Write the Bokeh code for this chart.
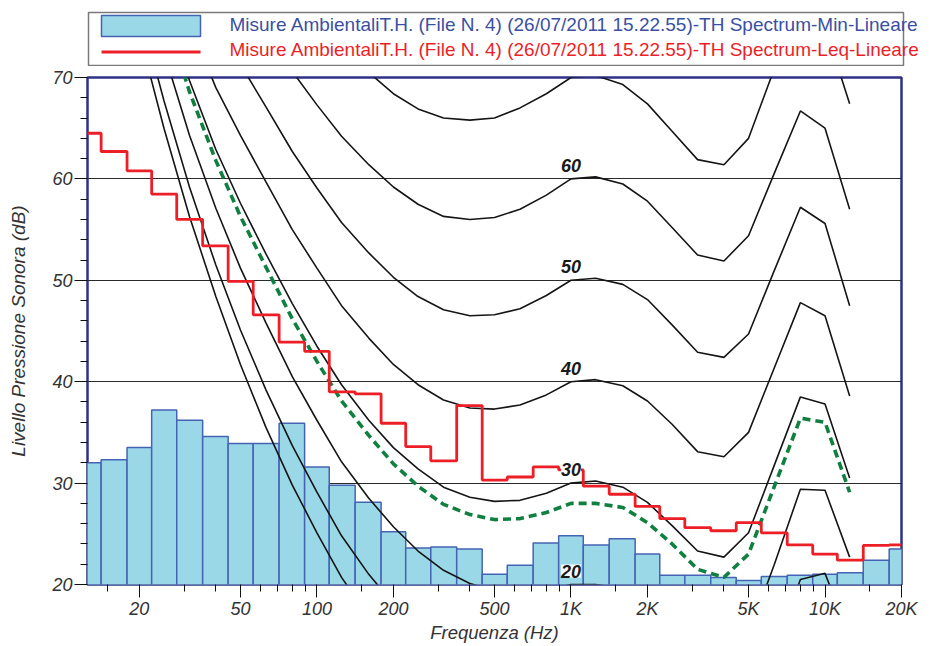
import math
from bokeh.plotting import figure
from bokeh.models import Range1d, FixedTicker, ColumnDataSource, LabelSet
from bokeh.layouts import column
from bokeh.embed import file_html
from bokeh.resources import INLINE
from bokeh.core.properties import value

# ---------------- data ----------------
band_freqs = [12.5, 16, 20, 25, 31.5, 40, 50, 63, 80, 100, 125, 160, 200, 250, 315, 400, 500,
              630, 800, 1000, 1250, 1600, 2000, 2500, 3150, 4000, 5000, 6300, 8000, 10000,
              12500, 16000, 20000]
spectrum_min = [32.0, 32.3, 33.5, 37.2, 36.2, 34.6, 33.9, 33.9, 35.9, 31.6, 29.8, 28.1, 25.2,
                23.6, 23.7, 23.5, 21.0, 21.9, 24.1, 24.8, 23.9, 24.5, 23.0, 20.9, 20.9, 20.7,
                20.4, 20.8, 20.9, 21.0, 21.15, 22.4, 23.5]
spectrum_leq = [64.5, 62.7, 60.8, 58.5, 56.0, 53.4, 49.9, 46.6, 43.9, 43.0, 39.0, 38.8, 35.9,
                33.6, 32.2, 37.65, 30.3, 30.6, 31.6, 31.3, 29.7, 28.9, 27.7, 26.5, 25.6, 25.3,
                26.1, 25.1, 23.9, 23.0, 22.4, 23.85, 23.9]

iso_freqs = [20, 25, 31.5, 40, 50, 63, 80, 100, 125, 160, 200, 250, 315, 400, 500, 630, 800,
             1000, 1250, 1600, 2000, 2500, 3150, 4000, 5000, 6300, 8000, 10000, 12500]
curve_threshold = [74.3, 65.0, 56.3, 48.4, 41.7, 35.5, 29.8, 25.1, 20.7, 16.8, 13.8, 11.2, 8.9,
                   7.2, 6.0, 5.0, 4.4, 4.2, 3.7, 2.6, 1.0, -1.2, -3.6, -3.9, -1.1, 6.6, 15.3,
                   16.4, 11.6]
curve_10 = [76.8, 67.7, 59.2, 51.5, 45.1, 39.2, 33.7, 29.1, 24.8, 21.0, 18.1, 15.6, 13.4, 11.9,
            10.9, 10.1, 9.9, 10.0, 10.1, 9.6, 8.0, 5.8, 3.4, 2.8, 5.1, 13.4, 20.5, 21.1, 14.8]
curve_20 = [81.3, 72.5, 64.3, 57.1, 51.2, 45.8, 40.5, 36.2, 32.1, 28.5, 25.7, 23.3, 21.4, 20.1,
            19.4, 19.1, 19.4, 20.0, 20.0, 19.6, 18.0, 15.8, 13.4, 12.8, 15.1, 21.9, 29.4, 29.3, 22.7]
curve_30 = [86.0, 77.6, 69.7, 62.9, 57.6, 52.6, 47.7, 43.5, 39.7, 36.2, 33.5, 31.4, 29.6, 28.6,
            28.2, 28.3, 29.0, 30.0, 30.2, 29.6, 28.1, 25.8, 23.3, 22.7, 25.1, 31.7, 38.5, 37.8, 30.5]
curve_40 = [91.0, 82.9, 75.4, 69.0, 64.3, 59.7, 55.0, 51.2, 47.5, 44.3, 41.7, 39.7, 38.2, 37.4,
            37.3, 37.7, 38.7, 40.0, 40.2, 39.6, 38.1, 35.8, 33.1, 32.6, 35.0, 41.3, 47.8, 46.5, 38.6]
curve_50 = [96.2, 88.5, 81.3, 75.4, 71.3, 67.1, 62.7, 59.1, 55.7, 52.7, 50.3, 48.4, 47.1, 46.5,
            46.6, 47.2, 48.5, 50.0, 50.2, 49.6, 48.1, 45.6, 42.9, 42.4, 44.7, 50.9, 57.2, 55.6, 47.5]
curve_60 = [101.7, 94.4, 87.6, 82.1, 78.6, 74.8, 70.6, 67.3, 64.2, 61.4, 59.2, 57.5, 56.3, 56.0,
            56.2, 57.0, 58.4, 60.0, 60.2, 59.5, 57.8, 55.2, 52.5, 51.9, 54.4, 60.5, 66.7, 65.0, 57.0]
curve_70 = [107.6, 100.7, 94.3, 89.2, 86.4, 82.8, 78.8, 75.8, 73.0, 70.5, 68.4, 66.9, 66.0, 65.8,
            66.0, 67.0, 68.4, 70.0, 70.2, 69.3, 67.4, 64.7, 61.9, 61.4, 64.0, 70.8, 76.2, 75.0, 67.4]
curve_loudness = [85.1, 76.5, 68.6, 61.8, 56.3, 51.3, 46.2, 42.0, 38.1, 34.7, 31.9, 29.7, 27.9,
                  26.9, 26.4, 26.5, 27.1, 28.0, 28.0, 27.6, 26.1, 24.0, 21.5, 20.7, 23.0, 29.6,
                  36.4, 36.0, 29.1]

contour_label_values = [20, 30, 40, 50, 60]
contour_label_freq = 1000

x_tick_values = [20, 50, 100, 200, 500, 1000, 2000, 5000, 10000, 20000]
x_tick_labels = ["20", "50", "100", "200", "500", "1K", "2K", "5K", "10K", "20K"]
x_minor_ticks = [15, 30, 40, 60, 70, 80, 90, 150, 300, 400, 600, 700, 800, 900, 1500, 3000,
                 4000, 6000, 7000, 8000, 9000, 15000]
y_tick_values = [20, 30, 40, 50, 60, 70]
y_minor_ticks = [v for v in range(22, 70, 2) if v % 10 != 0]

legend_min_text = "Misure AmbientaliT.H. (File N. 4) (26/07/2011 15.22.55)-TH Spectrum-Min-Lineare"
legend_leq_text = "Misure AmbientaliT.H. (File N. 4) (26/07/2011 15.22.55)-TH Spectrum-Leq-Lineare"

# ---------------- styles ----------------
FONT = "Liberation Sans"
BAR_FILL = "#9bd8e7"
BAR_LINE = "#4563b3"
RED = "#ec1f27"
GREEN = "#0f8040"
NAVY = "#2e3185"
TXT = "#333333"
LEG_H = 66

# band edges (geometric midpoints between nominal band centres)
mids = [math.sqrt(a * b) for a, b in zip(band_freqs[:-1], band_freqs[1:])]
lefts = [band_freqs[0] ** 2 / mids[0]] + mids
rights = mids + [band_freqs[-1] ** 2 / mids[-1]]

step_x, step_y = [], []
for l, r, v in zip(lefts, rights, spectrum_leq):
    step_x += [l, r]
    step_y += [v, v]

# ---------------- legend strip (pixel-like coordinates) ----------------
lg = figure(width=945, height=LEG_H, x_range=Range1d(0, 945), y_range=Range1d(LEG_H, 0),
            output_backend="svg", toolbar_location=None, title=None, min_border=0,
            x_axis_location=None, y_axis_location=None, outline_line_color=None)
lg.frame_align = False
lg.grid.visible = False
lg.quad(left=[88], right=[903], top=[12], bottom=[65], fill_color="white",
        line_color="#7a7a7a", line_width=1.5)
lg.quad(left=[101], right=[200], top=[15], bottom=[36], fill_color=BAR_FILL,
        line_color=BAR_LINE, line_width=1.5)
lg.line([101, 200], [51.5, 51.5], line_color=RED, line_width=3)
lg.text(x=[229], y=[23.5], text=[legend_min_text], text_font=value(FONT),
        text_font_size="19px", text_color="#3b4fa3", text_baseline="middle")
lg.text(x=[229], y=[48.5], text=[legend_leq_text], text_font=value(FONT),
        text_font_size="19px", text_color=RED, text_baseline="middle")

# ---------------- main chart ----------------
p = figure(width=945, height=646 - LEG_H, x_axis_type="log", x_range=Range1d(12.5, 20000),
           y_range=Range1d(20, 70), output_backend="svg", toolbar_location=None, title=None,
           min_border_left=87, min_border_right=44, min_border_top=77 - LEG_H,
           min_border_bottom=62)
p.frame_align = False
p.background_fill_color = "white"
p.border_fill_color = "white"
p.outline_line_color = NAVY
p.outline_line_width = 2.5

p.quad(left=lefts, right=rights, top=spectrum_min, bottom=0, fill_color=BAR_FILL,
       line_color=BAR_LINE, line_width=1.5)

for c in [curve_threshold, curve_10, curve_20, curve_30, curve_40, curve_50, curve_60, curve_70]:
    p.line(iso_freqs, c, line_color="#151515", line_width=1.6)

p.line(iso_freqs, curve_loudness, line_color=GREEN, line_width=3.6, line_dash="8 5")
p.line(step_x, step_y, line_color=RED, line_width=2.8)

lab_src = ColumnDataSource(dict(x=[contour_label_freq] * len(contour_label_values),
                                y=contour_label_values,
                                t=[str(v) for v in contour_label_values]))
p.add_layout(LabelSet(x="x", y="y", text="t", source=lab_src, y_offset=7,
                      text_align="center", text_baseline="alphabetic",
                      text_font=value(FONT), text_font_size="18px",
                      text_font_style="bold italic", text_color="#1a1a1a",
                      background_fill_color="white"))

p.xgrid.visible = False
p.ygrid.ticker = FixedTicker(ticks=[30, 40, 50, 60])
p.ygrid.grid_line_color = "#2a2a2a"
p.ygrid.grid_line_width = 1

p.xaxis.ticker = FixedTicker(ticks=x_tick_values, minor_ticks=x_minor_ticks)
p.xaxis.major_label_overrides = {v: t for v, t in zip(x_tick_values, x_tick_labels)}
p.yaxis.ticker = FixedTicker(ticks=y_tick_values, minor_ticks=y_minor_ticks)

for ax in [p.xaxis[0], p.yaxis[0]]:
    ax.axis_line_color = None
    ax.major_tick_out = 13
    ax.major_tick_in = 0
    ax.minor_tick_out = 7
    ax.minor_tick_in = 0
    ax.major_tick_line_color = "#111111"
    ax.minor_tick_line_color = "#111111"
    ax.major_label_text_font = FONT
    ax.major_label_text_font_style = "italic"
    ax.major_label_text_font_size = "18px"
    ax.major_label_text_color = TXT
    ax.axis_label_text_font = FONT
    ax.axis_label_text_font_style = "italic"
    ax.axis_label_text_color = TXT

p.xaxis.axis_label = "Frequenza (Hz)"
p.xaxis.axis_label_text_font_size = "18.5px"
p.xaxis.major_label_standoff = 1
p.xaxis.axis_label_standoff = 0
p.yaxis.axis_label = "Livello Pressione Sonora (dB)"
p.yaxis.axis_label_text_font_size = "19px"
p.yaxis.major_label_standoff = 2
p.yaxis.axis_label_standoff = 20

layout = column(lg, p)
open("out.html", "w").write(file_html(layout, INLINE))
